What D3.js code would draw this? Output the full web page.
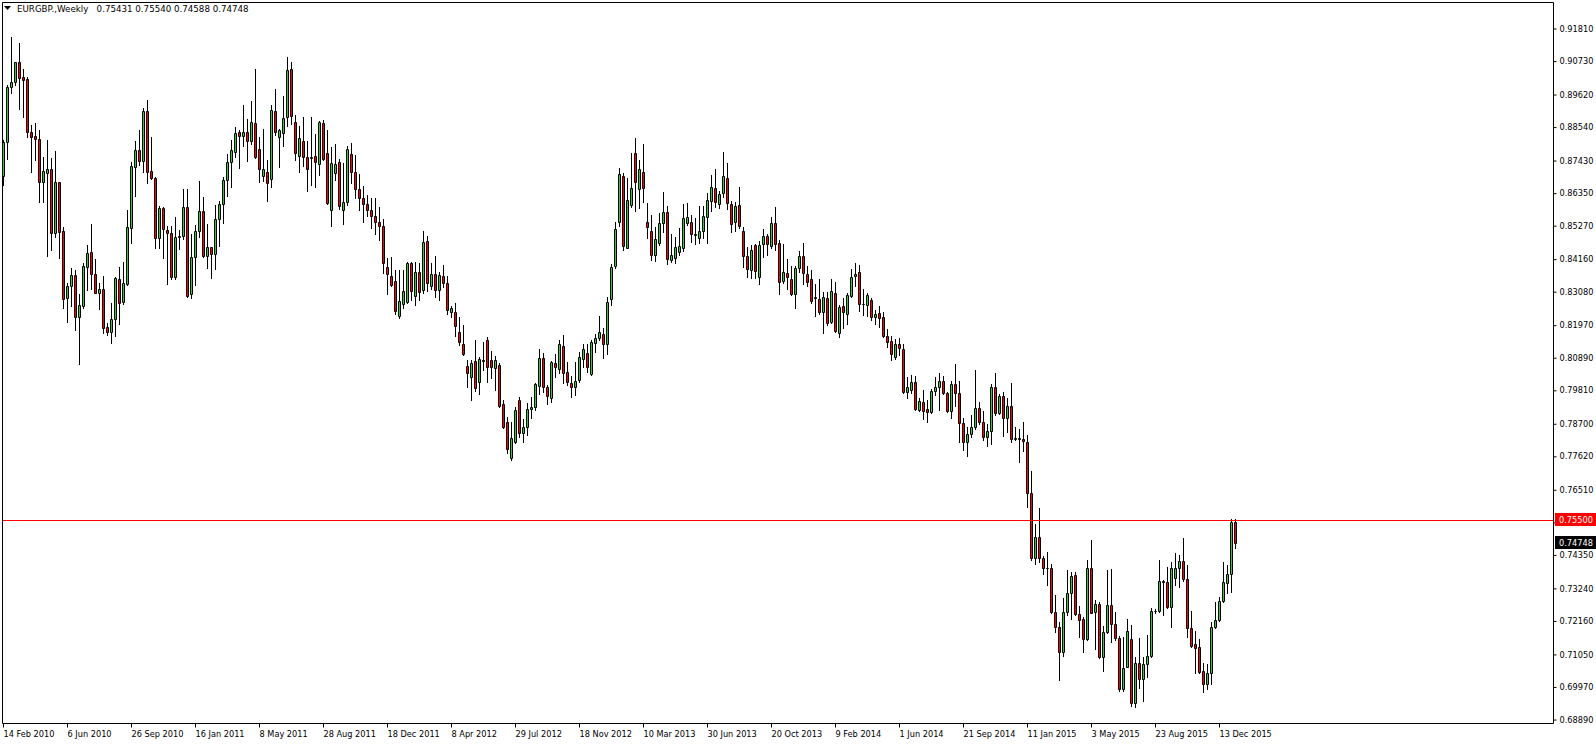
<!DOCTYPE html>
<html><head><meta charset="utf-8">
<script src="https://cdn.jsdelivr.net/npm/d3@7"></script>
<style>
html,body{margin:0;padding:0;background:#fff;overflow:hidden;}
svg{display:block;}
text{font-family:"DejaVu Sans",sans-serif;font-size:8.2px;fill:#000;}
</style></head><body>
<svg id="c" width="1596" height="744"></svg>
<script>
const symbol = "EURGBP.,Weekly";
const firstWeek = Date.UTC(2010, 1, 14);
const open = [
.8693,.8806,.8988,.9002,.9069,.9020,.9013,.8837,.8824,.8815,
.8673,.8703,.8714,.8502,.8671,.8509,.8286,.8327,.8363,.8223,
.8262,.8391,.8441,.8367,.8303,.8317,.8192,.8175,.8216,.8350,
.8275,.8334,.8518,.8723,.8778,.8743,.8908,.8708,.8684,.8485,
.8585,.8513,.8502,.8358,.8488,.8494,.8588,.8299,.8422,.8509,
.8577,.8428,.8455,.8432,.8548,.8598,.8679,.8737,.8773,.8837,
.8826,.8837,.8809,.8867,.8781,.8693,.8704,.8681,.8907,.8822,
.8833,.8889,.9047,.8870,.8759,.8808,.8754,.8752,.8758,.8731,
.8867,.8767,.8579,.8701,.8737,.8579,.8604,.8764,.8706,.8650,
.8620,.8600,.8580,.8560,.8540,.8526,.8389,.8360,.8344,.8229,
.8266,.8275,.8404,.8295,.8372,.8314,.8476,.8328,.8367,.8314,
.8360,.8336,.8242,.8240,.8173,.8133,.8062,.8026,.8078,.8010,
.8078,.8148,.8081,.8056,.8065,.7936,.7875,.7755,.7811,.7949,
.7838,.7860,.7919,.7925,.7995,.8087,.7991,.7957,.8070,.8051,
.8128,.8041,.8004,.7991,.8015,.8084,.8104,.8035,.8139,.8153,
.8167,.8133,.8283,.8394,.8540,.8692,.8454,.8596,.8767,.8648,
.8706,.8538,.8510,.8430,.8468,.8537,.8573,.8413,.8419,.8441,
.8452,.8537,.8540,.8499,.8485,.8510,.8557,.8610,.8651,.8598,
.8637,.8684,.8598,.8538,.8596,.8509,.8426,.8380,.8463,.8358,
.8465,.8493,.8461,.8535,.8468,.8345,.8369,.8349,.8299,.8388,
.8426,.8367,.8349,.8288,.8284,.8242,.8286,.8209,.8303,.8172,
.8261,.8233,.8294,.8361,.8374,.8266,.8264,.8280,.8225,.8236,
.8223,.8162,.8145,.8090,.8133,.8117,.7976,.7982,.8007,.7916,
.7941,.7918,.7910,.7980,.7991,.8012,.7971,.7913,.8001,.7971,
.7874,.7808,.7835,.7858,.7921,.7875,.7827,.7847,.7991,.7905,
.7962,.7890,.7929,.7820,.7823,.7819,.7808,.7639,.7424,.7493,
.7424,.7393,.7391,.7245,.7195,.7114,.7245,.7310,.7368,.7238,
.7222,.7155,.7391,.7245,.7271,.7095,.7178,.7269,.7206,.7158,
.6990,.7064,.7156,.6945,.7075,.7022,.7073,.7100,.7249,.7250,
.7348,.7346,.7263,.7357,.7390,.7415,.7355,.7194,.7139,.7131,
.7050,.7006,.7042,.7195,.7219,.7282,.7343,.7371,.75431];
const high = [
.8811,.8994,.9154,.9071,.9134,.9046,.9020,.8861,.8866,.8844,
.8756,.8811,.8753,.8775,.8672,.8524,.8336,.8386,.8380,.8300,
.8402,.8463,.8533,.8415,.8336,.8361,.8203,.8269,.8358,.8391,
.8405,.8579,.8739,.8808,.8844,.8916,.8944,.8822,.8690,.8593,
.8590,.8526,.8526,.8555,.8513,.8648,.8648,.8499,.8529,.8675,
.8623,.8533,.8457,.8596,.8610,.8690,.8765,.8811,.8853,.8844,
.8927,.8881,.8941,.9047,.8820,.8848,.8745,.8927,.8980,.8847,
.8957,.9088,.9069,.8894,.8858,.8889,.8809,.8889,.8831,.8875,
.8877,.8844,.8789,.8798,.8748,.8734,.8791,.8800,.8760,.8700,
.8660,.8630,.8620,.8620,.8590,.8550,.8421,.8422,.8380,.8380,
.8380,.8408,.8408,.8405,.8404,.8509,.8494,.8402,.8426,.8374,
.8397,.8360,.8262,.8269,.8223,.8198,.8082,.8082,.8148,.8093,
.8142,.8159,.8111,.8095,.8073,.7949,.7894,.7877,.7927,.7958,
.7886,.7938,.7960,.8004,.8118,.8104,.7999,.8078,.8100,.8148,
.8164,.8074,.8030,.8074,.8107,.8135,.8133,.8148,.8168,.8229,
.8187,.8289,.8399,.8538,.8719,.8703,.8686,.8769,.8817,.8745,
.8798,.8601,.8562,.8522,.8568,.8638,.8592,.8499,.8488,.8518,
.8599,.8601,.8562,.8551,.8592,.8593,.8634,.8695,.8715,.8643,
.8770,.8734,.8610,.8607,.8656,.8522,.8455,.8463,.8465,.8476,
.8515,.8498,.8557,.8590,.8480,.8466,.8417,.8393,.8393,.8443,
.8468,.8393,.8380,.8333,.8349,.8308,.8308,.8349,.8339,.8264,
.8286,.8303,.8382,.8402,.8397,.8317,.8303,.8286,.8247,.8261,
.8242,.8184,.8160,.8150,.8155,.8135,.8026,.8032,.8028,.7954,
.7982,.7949,.7984,.8024,.8037,.8028,.7976,.8013,.8068,.8012,
.7888,.7858,.7899,.8048,.7943,.7912,.7868,.8001,.8040,.7969,
.7976,.7954,.8006,.7860,.7852,.7877,.7833,.7713,.7536,.7590,
.7431,.7444,.7405,.7302,.7214,.7291,.7385,.7379,.7379,.7266,
.7230,.7418,.7484,.7285,.7280,.7200,.7385,.7387,.7247,.7167,
.7164,.7222,.7202,.7098,.7161,.7098,.7169,.7258,.7256,.7418,
.7352,.7396,.7410,.7440,.7435,.7490,.7402,.7249,.7183,.7155,
.7075,.7072,.7214,.7278,.7297,.7413,.7402,.7553,.75540];
const low = [
.8662,.8748,.8966,.8994,.8914,.8889,.8822,.8706,.8745,.8607,
.8604,.8428,.8446,.8491,.8421,.8253,.8209,.8262,.8181,.8067,
.8253,.8314,.8317,.8303,.8251,.8170,.8164,.8139,.8162,.8201,
.8267,.8330,.8468,.8627,.8728,.8706,.8670,.8682,.8452,.8452,
.8421,.8334,.8349,.8349,.8449,.8482,.8289,.8286,.8330,.8491,
.8422,.8388,.8355,.8383,.8461,.8535,.8627,.8654,.8754,.8717,
.8792,.8743,.8798,.8750,.8673,.8676,.8610,.8656,.8828,.8723,
.8792,.8858,.8864,.8745,.8706,.8725,.8643,.8662,.8654,.8695,
.8745,.8599,.8527,.8679,.8581,.8532,.8596,.8670,.8620,.8580,
.8540,.8560,.8520,.8500,.8480,.8371,.8300,.8327,.8234,.8222,
.8255,.8270,.8281,.8264,.8281,.8305,.8311,.8317,.8292,.8281,
.8325,.8234,.8225,.8162,.8131,.8098,.7993,.7949,.7980,.7969,
.8048,.8010,.8021,.7982,.7925,.7855,.7772,.7750,.7805,.7827,
.7811,.7833,.7890,.7915,.7968,.7976,.7934,.7941,.8026,.8037,
.8004,.7999,.7960,.7965,.8007,.8059,.8043,.8032,.8109,.8148,
.8087,.8101,.8264,.8386,.8527,.8446,.8452,.8590,.8576,.8587,
.8604,.8485,.8413,.8410,.8463,.8507,.8399,.8405,.8402,.8430,
.8443,.8529,.8474,.8465,.8468,.8485,.8468,.8577,.8590,.8585,
.8623,.8581,.8505,.8509,.8518,.8391,.8356,.8352,.8352,.8333,
.8424,.8430,.8452,.8446,.8299,.8338,.8316,.8297,.8253,.8375,
.8333,.8328,.8270,.8229,.8233,.8170,.8198,.8203,.8173,.8157,
.8189,.8201,.8292,.8328,.8245,.8231,.8229,.8214,.8201,.8192,
.8159,.8126,.8082,.8084,.8098,.7971,.7957,.7971,.7916,.7912,
.7886,.7875,.7905,.7965,.7916,.7968,.7910,.7890,.7930,.7808,
.7783,.7764,.7827,.7852,.7868,.7816,.7797,.7802,.7899,.7901,
.7831,.7844,.7811,.7815,.7744,.7781,.7593,.7418,.7405,.7413,
.7371,.7335,.7241,.7180,.7020,.7100,.7236,.7221,.7236,.7162,
.7114,.7153,.7241,.7123,.7092,.7051,.7175,.7147,.7153,.6985,
.6985,.7062,.6935,.6932,.6992,.6950,.7031,.7097,.7244,.7247,
.7236,.7258,.7195,.7335,.7330,.7348,.7164,.7131,.7042,.7042,
.6979,.6989,.7006,.7192,.7217,.7280,.7310,.7311,.74588];
const close = [
.8806,.8986,.9005,.9069,.9018,.9011,.8837,.8822,.8813,.8673,
.8708,.8714,.8502,.8671,.8507,.8283,.8327,.8363,.8223,.8264,
.8394,.8435,.8366,.8305,.8317,.8187,.8175,.8217,.8352,.8272,
.8336,.8524,.8726,.8778,.8743,.8908,.8706,.8684,.8485,.8585,
.8515,.8502,.8358,.8488,.8494,.8588,.8294,.8422,.8509,.8577,
.8428,.8455,.8432,.8548,.8598,.8679,.8737,.8778,.8833,.8826,
.8837,.8809,.8870,.8756,.8714,.8715,.8668,.8911,.8837,.8844,
.8883,.9043,.8892,.8767,.8817,.8754,.8714,.8754,.8737,.8870,
.8748,.8603,.8734,.8731,.8593,.8604,.8780,.8706,.8650,.8620,
.8600,.8580,.8560,.8540,.8526,.8402,.8366,.8330,.8245,.8277,
.8310,.8404,.8311,.8372,.8308,.8472,.8338,.8367,.8314,.8363,
.8336,.8247,.8253,.8195,.8141,.8101,.8039,.8073,.7990,.8084,
.8080,.8059,.8059,.8081,.7930,.7858,.7785,.7822,.7916,.7838,
.7858,.7919,.7925,.8001,.8087,.7991,.7962,.8076,.8059,.8133,
.8037,.8007,.7993,.8013,.8090,.8117,.8059,.8142,.8153,.8173,
.8135,.8273,.8391,.8515,.8697,.8461,.8612,.8651,.8671,.8714,
.8651,.8524,.8430,.8482,.8535,.8573,.8416,.8430,.8455,.8460,
.8551,.8555,.8498,.8495,.8509,.8559,.8612,.8654,.8607,.8631,
.8692,.8603,.8532,.8592,.8527,.8428,.8382,.8446,.8377,.8463,
.8493,.8465,.8535,.8465,.8341,.8372,.8356,.8299,.8388,.8428,
.8371,.8341,.8278,.8290,.8242,.8289,.8203,.8310,.8178,.8256,
.8242,.8297,.8358,.8366,.8266,.8267,.8297,.8225,.8234,.8220,
.8162,.8142,.8100,.8133,.8120,.7976,.7991,.8007,.7919,.7947,
.7913,.7910,.7980,.7991,.8012,.7971,.7912,.8001,.7971,.7874,
.7808,.7835,.7858,.7921,.7875,.7827,.7846,.7991,.7905,.7962,
.7890,.7929,.7819,.7823,.7821,.7813,.7639,.7424,.7493,.7424,
.7393,.7391,.7245,.7195,.7114,.7245,.7310,.7365,.7238,.7219,
.7155,.7391,.7243,.7271,.7095,.7178,.7269,.7206,.7158,.6990,
.7059,.7183,.6945,.7075,.7022,.7073,.7100,.7249,.7250,.7348,
.7346,.7263,.7391,.7390,.7415,.7354,.7191,.7134,.7127,.7048,
.7006,.7044,.7197,.7219,.7282,.7346,.7372,.7543,.74748];
const priceTicks = [0.91810,0.90730,0.89620,0.88540,0.87430,0.86350,0.85270,0.84160,0.83080,0.81970,0.80890,0.79810,0.78700,0.77620,0.76510,0.75430,0.74350,0.73240,0.72160,0.71050,0.69970,0.68890];
const dateTicks = ["2010-02-14","2010-06-06","2010-09-26","2011-01-16","2011-05-08","2011-08-28","2011-12-18","2012-04-08","2012-07-29","2012-11-18","2013-03-10","2013-06-30","2013-10-20","2014-02-09","2014-06-01","2014-09-21","2015-01-11","2015-05-03","2015-08-23","2015-12-13"];
const levelLine = 0.75500;
const bidPrice = 0.74748;

const W = 1596, H = 744;
const L = 2, T = 2, R = 1553, B = 723;
const WEEK = 7 * 864e5;
const nBars = open.length;
const bars = d3.range(nBars).map(i => ({date: new Date(firstWeek + i * WEEK), o: open[i], h: high[i], l: low[i], c: close[i]}));

const x = d3.scaleUtc().domain([new Date(firstWeek), new Date(firstWeek + (nBars - 1) * WEEK)]).range([3, 3 + 4 * (nBars - 1)]);
const y = d3.scaleLinear().domain([0.68775, 0.92689]).range([B, T]);

const svg = d3.select("#c");
svg.append("defs").append("clipPath").attr("id", "clip")
  .append("rect").attr("x", L + 1).attr("y", T + 1).attr("width", R - L - 1).attr("height", B - T - 1);

const plot = svg.append("g").attr("clip-path", "url(#clip)");
const px = d => Math.round(x(d.date));
const py = v => Math.round(y(v));

plot.selectAll("line.wick").data(bars).join("line").attr("class", "wick")
  .attr("x1", d => px(d) + 0.5).attr("x2", d => px(d) + 0.5)
  .attr("y1", d => py(d.h)).attr("y2", d => py(d.l) + 1)
  .attr("stroke", "#000").attr("stroke-width", 1).attr("shape-rendering", "crispEdges");

plot.selectAll("path.body").data(bars).join("path").attr("class", "body")
  .attr("d", d => {
    const x0 = px(d) - 1 + 0.5, x1 = px(d) + 1 + 0.5;
    const y0 = py(Math.max(d.o, d.c)) + 0.5, y1 = py(Math.min(d.o, d.c)) + 0.5;
    return `M${x0},${y0}H${x1}V${y1}H${x0}Z`;
  })
  .attr("fill", d => d.c >= d.o ? "#32cd32" : "#ff0000")
  .attr("stroke", "#000").attr("stroke-width", 1);

// horizontal level line
plot.append("line").attr("x1", L).attr("x2", R).attr("y1", py(levelLine) + 0.5).attr("y2", py(levelLine) + 0.5)
  .attr("stroke", "#ff0000").attr("stroke-width", 1);

// frame
svg.append("path").attr("d", `M${L + 0.5},${B + 0.5}V${T + 0.5}H${R + 0.5}V${B + 0.5}H${L + 0.5}`)
  .attr("fill", "none").attr("stroke", "#000").attr("stroke-width", 1);

// price axis
const yAxis = d3.axisRight(y).tickValues(priceTicks).tickSize(3).tickPadding(3).tickFormat(d3.format(".5f"));
const ya = svg.append("g").attr("transform", `translate(${R + 0.5},0)`).call(yAxis);
ya.select(".domain").remove();
ya.selectAll(".tick line").attr("stroke", "#000");
ya.selectAll(".tick text").attr("fill", "#000").style("font-family", '"DejaVu Sans",sans-serif').style("font-size", "8.2px");

// date axis
const xAxis = d3.axisBottom(x).tickValues(dateTicks.map(s => new Date(s + "T00:00:00Z")))
  .tickSize(4).tickPadding(4).tickFormat(d3.utcFormat("%-d %b %Y"));
const xa = svg.append("g").attr("transform", `translate(0,${B + 0.5})`).call(xAxis);
xa.select(".domain").remove();
xa.selectAll(".tick line").attr("stroke", "#000");
xa.selectAll(".tick text").attr("fill", "#000").attr("text-anchor", "start").attr("x", 0)
  .style("font-family", '"DejaVu Sans",sans-serif').style("font-size", "8.2px");

// price tags
function tag(v, bg) {
  const yy = py(v);
  svg.append("rect").attr("x", R + 2).attr("y", yy - 7).attr("width", W - R - 2).attr("height", 13).attr("fill", bg);
  svg.append("text").attr("x", R + 6).attr("y", yy).attr("dy", "0.35em").attr("fill", "#fff")
    .style("fill", "#fff").text(d3.format(".5f")(v));
}
tag(levelLine, "#ff0000");
tag(bidPrice, "#000000");

// header
svg.append("path").attr("d", "M4,6H11L7.5,10Z").attr("fill", "#000");
const last = nBars - 1;
svg.append("text").attr("x", 17).attr("y", 12).style("white-space", "pre").style("font-size", "8.7px")
  .text(`${symbol}   ${open[last].toFixed(5)} ${high[last].toFixed(5)} ${low[last].toFixed(5)} ${close[last].toFixed(5)}`);
</script>
</body></html>
